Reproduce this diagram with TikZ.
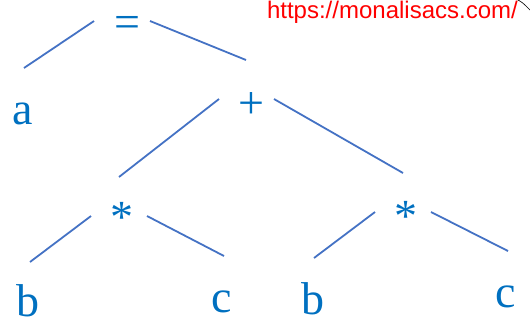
\documentclass[tikz,border=0pt]{standalone}
\usepackage{fontspec}
\setmainfont{Liberation Serif}
\newfontfamily\urlfont{Liberation Sans}
\newfontfamily\symfont{Liberation Serif}
\definecolor{txtblue}{RGB}{0,112,192}
\definecolor{lineblue}{RGB}{68,114,196}
\begin{document}
\begin{tikzpicture}[x=1pt,y=-1pt,
  sym/.style={text=txtblue,font=\symfont\fontsize{46}{46}\selectfont,anchor=base,inner sep=0pt},
  edge/.style={draw=lineblue,line width=1.8pt}]
\useasboundingbox (0,0) rectangle (530,325);
% nodes
\node[sym] (eq) at (127,37) {=};
\node[sym] (a) at (23,124) {a};
\node[sym] (plus) at (251,118) {+};
\node[sym] (m1) at (122,232) {*};
\node[sym] (m2) at (406,231) {*};
\node[sym] (b1) at (28,316) {b};
\node[sym] (c1) at (222,312) {c};
\node[sym] (b2) at (313,314) {b};
\node[sym] (c2) at (506,307) {c};
% connector end points
\coordinate (eqL) at (94,21);  \coordinate (aT) at (24,68);
\coordinate (eqR) at (150,21); \coordinate (plusT) at (246,60);
\coordinate (plusL) at (219,99); \coordinate (m1T) at (119,177);
\coordinate (plusR) at (274,99); \coordinate (m2T) at (403,173);
\coordinate (m1L) at (91,216); \coordinate (b1T) at (30,262);
\coordinate (m1R) at (147,216); \coordinate (c1T) at (224,256);
\coordinate (m2L) at (375,212); \coordinate (b2T) at (314,258);
\coordinate (m2R) at (431,212); \coordinate (c2T) at (508,251);
\draw[edge] (eqL) -- (aT);
\draw[edge] (eqR) -- (plusT);
\draw[edge] (plusL) -- (m1T);
\draw[edge] (plusR) -- (m2T);
\draw[edge] (m1L) -- (b1T);
\draw[edge] (m1R) -- (c1T);
\draw[edge] (m2L) -- (b2T);
\draw[edge] (m2R) -- (c2T);
% url
\node[anchor=base east,inner sep=0pt,text=red,font=\urlfont\fontsize{24}{24}\selectfont] (url) at (518,18) {https://monalisacs.com/};
\draw[black,line width=0.6pt] (516,-1) .. controls (522,2) .. (531,11);
\end{tikzpicture}
\end{document}
